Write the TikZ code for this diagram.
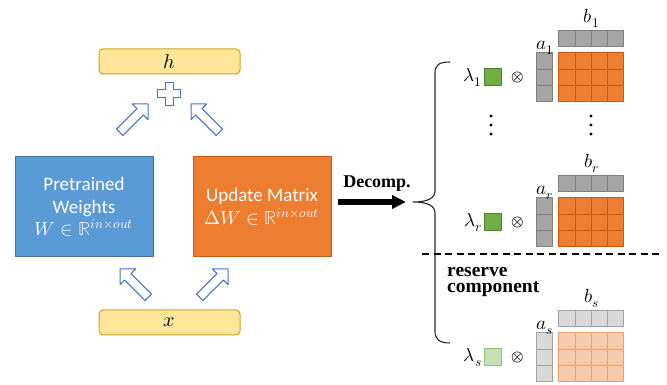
\documentclass[tikz,border=0pt]{standalone}
\usepackage{fontspec}
\usepackage{amsmath}
\usepackage{unicode-math}
\setmainfont{Carlito}
\setmathfont{latinmodern-math.otf}
\newfontfamily\tnr{Liberation Serif}
\usetikzlibrary{positioning,arrows.meta}

\definecolor{ioyellow}{HTML}{FFE699}
\definecolor{iogold}{HTML}{C9A227}
\definecolor{wblue}{HTML}{5B9BD5}
\definecolor{wbluedark}{HTML}{41719C}
\definecolor{uorange}{HTML}{ED7D31}
\definecolor{uorangedark}{HTML}{C55A11}
\definecolor{lorange}{HTML}{F8CBAD}
\definecolor{lorangedark}{HTML}{E9A06A}
\definecolor{vgray}{HTML}{A5A5A5}
\definecolor{vgraydark}{HTML}{7F7F7F}
\definecolor{lgray}{HTML}{D9D9D9}
\definecolor{lgraydark}{HTML}{A0A0A0}
\definecolor{sgreen}{HTML}{70AD47}
\definecolor{sgreendark}{HTML}{507E32}
\definecolor{lgreen}{HTML}{C5E0B4}
\definecolor{lgreendark}{HTML}{92C173}
\definecolor{arrowblue}{HTML}{4472C4}

% hollow block arrow: tip x, tip y, direction
\newcommand{\blockarrow}[3]{%
  \draw[block arrow,shift={(#1,#2)},rotate=#3] (0,0) -- (-11,11) -- (-11,4.5) -- (-40,4.5)
    -- (-40,-4.5) -- (-11,-4.5) -- (-11,-11) -- cycle;}

% one rank-one component: id, top of matrix, vector style, matrix style, scalar style, index
\newcommand{\rankone}[6]{%
  \foreach \row in {0,1,2}{
    \node[cell,#3] (a#1\row) at ({544.6},{#2-8.125-\row*16.25}) {};
    \foreach \col in {0,...,3}
      \node[cell,#4] (m#1\row\col) at ({567.1+\col*16.25},{#2-8.125-\row*16.25}) {};
  }
  \foreach \col in {0,...,3}
    \node[cell,#3] (b#1\col) at ({567.1+\col*16.25},{#2+14.125}) {};
  \node[sq,#5] (lam#1) at (492.5,{#2-24.4}) {};
  \node[mlbl,anchor=base east] (lamtxt#1) at ([xshift=-1.5pt,yshift=-4.5pt]lam#1.west) {$\lambda_{#6}$};
  \node[mlbl,font=\fontsize{16}{19}\selectfont] (ot#1) at (518,{#2-24.4}) {$\otimes$};
  \node[mlbl,anchor=base] (atxt#1) at ({544.6},{#2+3.5}) {$a_{#6}$};
  \node[mlbl,anchor=base] (btxt#1) at ({591.5},{#2+30.25}) {$b_{#6}$};
}

\begin{document}
\begin{tikzpicture}[x=1pt,y=1pt,line join=round,
    io/.style={draw=iogold,fill=ioyellow,line width=1pt,rounded corners=4pt,
               minimum width=141pt,minimum height=25pt,inner sep=0pt,
               font=\fontsize{20}{22}\selectfont},
    weight/.style={line width=1pt,minimum width=138pt,minimum height=100pt,inner sep=0pt,
               align=center,text=white,font=\fontsize{19}{22.5}\selectfont},
    block arrow/.style={draw=arrowblue,fill=white,line width=1pt},
    cell/.style={draw,line width=1pt,minimum size=16.25pt,inner sep=0pt},
    vec/.style={fill=vgray,draw=vgraydark},
    mat/.style={fill=uorange,draw=uorangedark},
    lvec/.style={fill=lgray,draw=lgraydark},
    lmat/.style={fill=lorange,draw=lorangedark},
    scal/.style={fill=sgreen,draw=sgreendark},
    lscal/.style={fill=lgreen,draw=lgreendark},
    sq/.style={draw,line width=1pt,minimum size=17pt,inner sep=0pt},
    mlbl/.style={inner sep=0pt,font=\fontsize{19}{21}\selectfont},
    bold/.style={inner sep=0pt,font=\tnr\bfseries\fontsize{18}{16.5}\selectfont},
    decomp/.style={line width=5.5pt,-{Triangle[length=14pt,width=13pt]}}]

  \useasboundingbox (0,0) rectangle (667,385);

  % left part
  \node[io] (h) at (169.5,323.5) {$h$};
  \node[io] (x) at (169.5,62.5) {$x$};
  \node[weight,fill=wblue,draw=wbluedark] (pre) at (84,178)
    {Pretrained\\Weights\\$W \in \mathbb{R}^{in\times out}$};
  \node[weight,fill=uorange,draw=uorangedark] (upd) at (262,178)
    {Update Matrix\\$\Delta W \in \mathbb{R}^{in\times out}$};

  \coordinate (plus) at (169,291);
  \draw[block arrow,shift={(plus)}] (-4,11.5) -- (4,11.5) -- (4,4) -- (11.5,4) -- (11.5,-4)
    -- (4,-4) -- (4,-11.5) -- (-4,-11.5) -- (-4,-4) -- (-11.5,-4) -- (-11.5,4) -- (-4,4) -- cycle;

  \blockarrow{148}{281}{45}
  \blockarrow{191}{281}{135}
  \blockarrow{120}{116}{135}
  \blockarrow{228}{116}{45}

  % decomposition
  \coordinate (tip) at (413,183);
  \node[bold,anchor=base] (dec) at (377,197) {Decomp.};
  \draw[decomp,shorten <=6pt,shorten >=7pt] (upd.east |- tip) -- (tip);
  \draw[line width=1.1pt,black!85] (450,323) .. controls (439,323) and (435,320) .. (435,312)
    -- (435,194) .. controls (435,187) and (428,183) .. (tip)
    .. controls (428,183) and (435,179) .. (435,172)
    -- (435,54) .. controls (435,46) and (439,42) .. (450,42);

  % components
  \rankone{1}{332}{vec}{mat}{scal}{1}
  \rankone{r}{187}{vec}{mat}{scal}{r}
  \rankone{s}{52}{lvec}{lmat}{lscal}{s}

  \foreach \dx in {491,591}
    \foreach \dy in {269,260,251}
      \fill (\dx,\dy) circle (1.7);

  \draw[line width=1.3pt,dash pattern=on 7pt off 4.5pt] (422,131) -- (660,131);
  \node[bold,font=\tnr\bfseries\fontsize{19.5}{16.5}\selectfont,anchor=base west,align=left] (res) at (447,92) {reserve\\component};

\end{tikzpicture}
\end{document}
